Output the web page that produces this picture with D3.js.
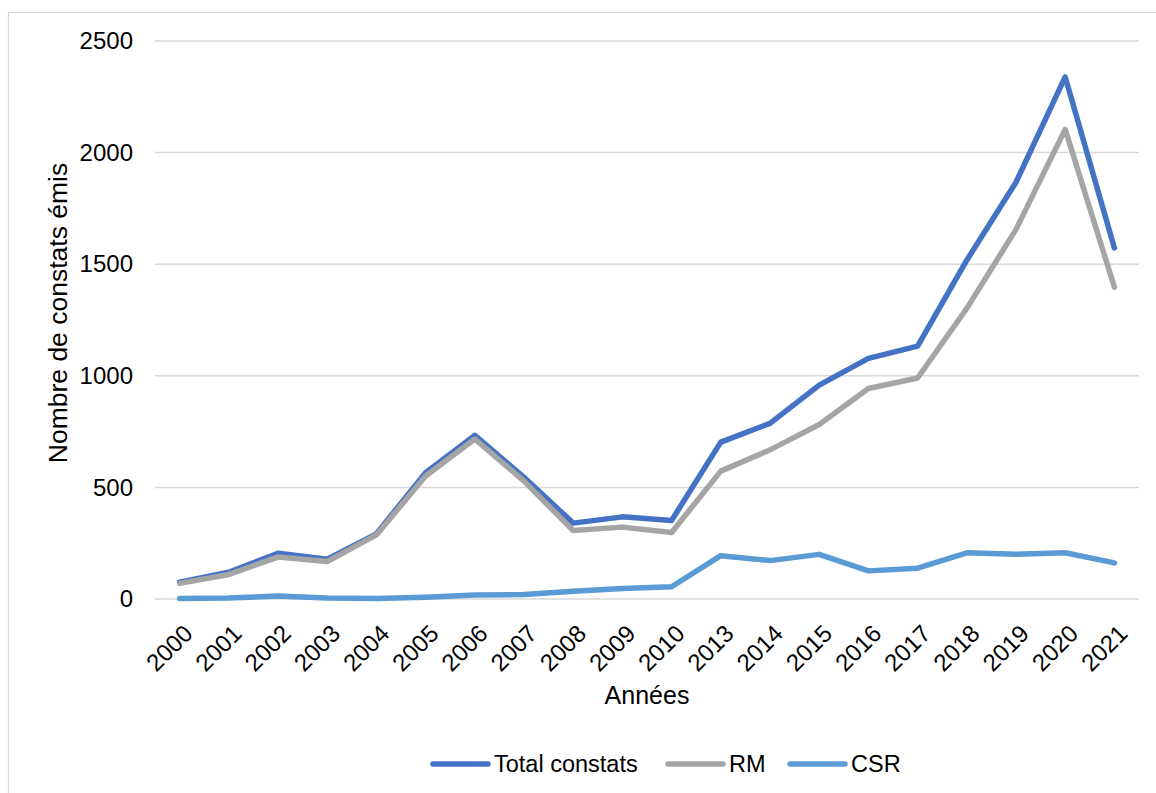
<!DOCTYPE html>
<html>
<head>
<meta charset="utf-8">
<script src="https://cdn.jsdelivr.net/npm/d3@7"></script>
<style>
  html, body { margin: 0; padding: 0; background: #ffffff; }
  svg { display: block; font-family: "Liberation Sans", Arial, sans-serif; }
</style>
</head>
<body>
<svg id="chart" width="1156" height="793"></svg>
<script>
const years = ["2000","2001","2002","2003","2004","2005","2006","2007","2008","2009","2010","2013","2014","2015","2016","2017","2018","2019","2020","2021"];
const totalConstats = [75, 120, 205, 178, 292, 566, 733, 545, 340, 368, 352, 703, 787, 958, 1078, 1133, 1518, 1867, 2339, 1573];
const rmValues      = [70, 110, 188, 168, 287, 551, 717, 528, 307, 322, 298, 573, 668, 782, 943, 990, 1302, 1656, 2104, 1397];
const csrValues     = [2, 5, 13, 5, 2, 8, 18, 20, 35, 47, 55, 194, 172, 200, 126, 138, 207, 200, 207, 162];
const yTicks = [0, 500, 1000, 1500, 2000, 2500];
const seriesNames = ["Total constats", "RM", "CSR"];
const seriesColors = ["#4472C4", "#A5A5A5", "#5B9BD5"];

(function () {
const svg = d3.select("#chart");
const pLeft = 155, pRight = 1139, pTop = 41, pBottom = 599;

// outer frame
svg.append("rect").attr("x", 8.5).attr("y", 12.5).attr("width", 1200).attr("height", 900)
  .attr("fill", "none").attr("stroke", "#d9d9d9").attr("stroke-width", 1.2);

const x = d3.scalePoint().domain(years).range([pLeft, pRight]).padding(0.5);
const y = d3.scaleLinear().domain([0, 2500]).range([pBottom, pTop]);

// gridlines
svg.append("g").selectAll("line").data(yTicks).join("line")
  .attr("x1", pLeft).attr("x2", pRight)
  .attr("y1", d => y(d)).attr("y2", d => y(d))
  .attr("stroke", "#d9d9d9").attr("stroke-width", 1.5);

// y axis labels
const yAxis = svg.append("g").attr("transform", `translate(${pLeft},0)`)
  .call(d3.axisLeft(y).tickValues(yTicks).tickFormat(d3.format("d")).tickSize(0).tickPadding(22));
yAxis.select(".domain").remove();
yAxis.selectAll("text").attr("font-size", 24).attr("fill", "#000")
  .attr("font-family", "Liberation Sans, Arial, sans-serif");

// x axis labels
const xAxis = svg.append("g").attr("transform", `translate(0,${pBottom})`)
  .call(d3.axisBottom(x).tickSize(0).tickPadding(0));
xAxis.select(".domain").remove();
xAxis.selectAll("text")
  .attr("font-size", 24).attr("fill", "#000")
  .attr("font-family", "Liberation Sans, Arial, sans-serif")
  .attr("text-anchor", "end")
  .attr("dy", null)
  .attr("y", null)
  .attr("transform", "translate(8,30) rotate(-45)")
  .attr("dominant-baseline", "central");

// axis titles
svg.append("text").attr("x", 647).attr("y", 704).attr("text-anchor", "middle")
  .attr("font-size", 25).attr("fill", "#000").text("Années");
svg.append("text").attr("transform", "translate(67,313) rotate(-90)")
  .attr("text-anchor", "middle").attr("font-size", 26.5).attr("fill", "#000")
  .text("Nombre de constats émis");

// lines
const allSeries = [totalConstats, rmValues, csrValues];
const line = d3.line().x((d, i) => x(years[i])).y(d => y(d));
allSeries.forEach((vals, k) => {
  svg.append("path").datum(vals)
    .attr("d", line)
    .attr("fill", "none")
    .attr("stroke", seriesColors[k])
    .attr("stroke-width", 5.5)
    .attr("stroke-linejoin", "round")
    .attr("stroke-linecap", "round");
});

// legend
const legendX = [433, 668, 790];
const legend = svg.append("g");
seriesNames.forEach((name, k) => {
  legend.append("line")
    .attr("x1", legendX[k]).attr("x2", legendX[k] + 55)
    .attr("y1", 764).attr("y2", 764)
    .attr("stroke", seriesColors[k]).attr("stroke-width", 5.5)
    .attr("stroke-linecap", "round");
  legend.append("text")
    .attr("x", legendX[k] + 61).attr("y", 764)
    .attr("dominant-baseline", "central")
    .attr("font-size", 23.5).attr("fill", "#000")
    .text(name);
});
})();
</script>
</body>
</html>
